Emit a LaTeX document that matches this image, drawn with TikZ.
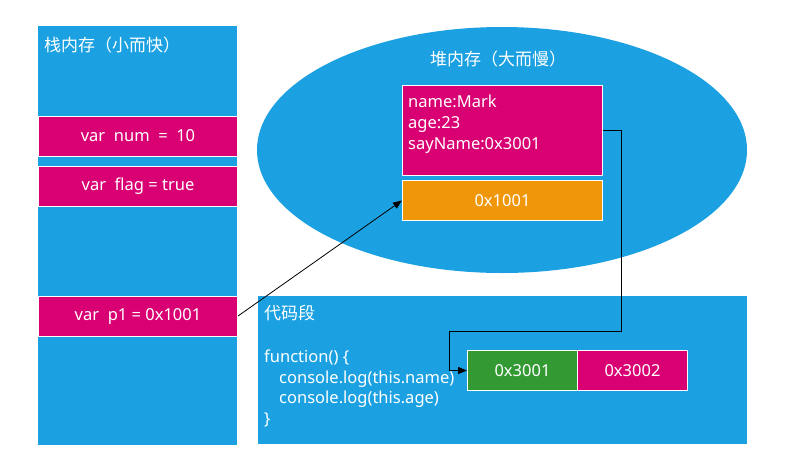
\documentclass[tikz,border=0pt]{standalone}
\usepackage{fontspec}
\setmainfont{Noto Sans}
\newfontfamily\cjk{Noto Sans CJK SC}
\usetikzlibrary{arrows.meta,shapes.geometric}
\definecolor{mblue}{HTML}{1BA1E2}
\definecolor{mpink}{HTML}{D80073}
\definecolor{morange}{HTML}{F09609}
\definecolor{mgreen}{HTML}{339933}
\tikzset{
  area/.style={fill=mblue, inner sep=0pt, anchor=north west},
  cell/.style={draw=white, line width=1pt, inner sep=0pt, text=white, anchor=north west, font=\fontsize{16.5}{20}\selectfont},
  pinkcell/.style={cell, fill=mpink},
  txt/.style={text=white, inner sep=0pt, font=\fontsize{16.5}{20.8}\selectfont},
  cjktxt/.style={text=white, inner sep=0pt, font=\cjk\fontsize{17}{20}\selectfont},
  link/.style={draw=black, line width=0.8pt, -{Triangle[length=9pt,width=7pt]}},
}
\begin{document}
\begin{tikzpicture}[x=1pt,y=-1pt]
\useasboundingbox[fill=white] (0,0) rectangle (787,463);
% stack
\node[area, minimum width=199, minimum height=419] (stack) at (38,26) {};
\node[cjktxt, anchor=west] (stacktitle) at (44,45) {栈内存（小而快）};
\node[pinkcell, minimum width=199, minimum height=40] (num) at (38,115.5) {var\ \ num\ \ =\ \ 10};
\node[pinkcell, minimum width=199, minimum height=40] (flag) at (38,165.5) {var\ \ flag = true};
\node[pinkcell, minimum width=199, minimum height=40] (p1) at (38,295.5) {var\ \ p1 = 0x1001};
% heap
\node[ellipse, fill=mblue, inner sep=0pt, minimum width=490, minimum height=246] (heap) at (502,150) {};
\node[cjktxt] (heaptitle) at (498,59) {堆内存（大而慢）};
\node[pinkcell, minimum width=200, minimum height=90] (obj) at (402,85) {};
\node[txt, anchor=north west, align=left] (objtxt) at (408,95) {name:Mark\\age:23\\sayName:0x3001};
\node[cell, fill=morange, minimum width=200, minimum height=40] (addr) at (402,180) {0x1001};
% code segment
\node[area, minimum width=489, minimum height=148] (code) at (258,296) {};
\node[cjktxt, anchor=west] (codetitle) at (264,313) {代码段};
\node[txt, anchor=north west, align=left] (codetxt) at (264,349.5) {function() \{\\\hspace*{15pt}console.log(this.name)\\\hspace*{15pt}console.log(this.age)\\\}};
\node[cell, fill=mgreen, minimum width=110, minimum height=40] (f1) at (467,350) {0x3001};
\node[pinkcell, minimum width=110, minimum height=40] (f2) at (577,350) {0x3002};
% connectors
\coordinate (c1) at (621,331);
\coordinate (c2) at (449,331);
\draw[link] (p1.east) -- (addr.west);
\draw[link] (obj.east) -| (c1) -- (c2) |- (f1.west);
\end{tikzpicture}
\end{document}
